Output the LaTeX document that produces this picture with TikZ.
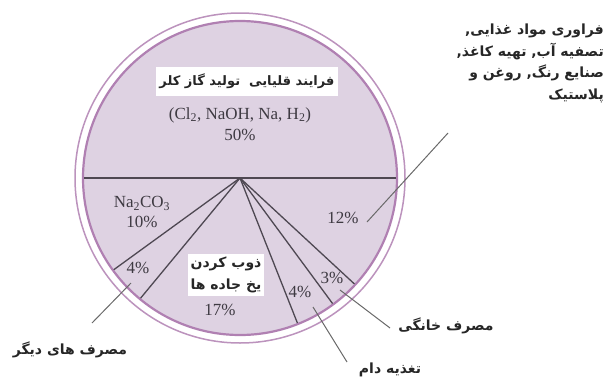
\documentclass[tikz,border=0pt]{standalone}
\usepackage{fontspec}
\setmainfont{Liberation Serif}
\newfontfamily\fafont[Script=Arabic]{DejaVu Sans}
\TeXXeTstate=1
\definecolor{piefill}{RGB}{222,210,226}
\definecolor{piering}{RGB}{176,128,178}
\definecolor{spokecol}{RGB}{78,72,82}
\definecolor{leadcol}{RGB}{105,105,105}
\definecolor{numcol}{RGB}{62,58,66}

\begin{document}
\begin{tikzpicture}[x=1pt, y=1pt,
  spoke/.style={draw=spokecol, line width=1.3pt},
  leader/.style={draw=leadcol, line width=1pt},
  pct/.style={font=\fontsize{17}{20}\selectfont, text=numcol, align=center, inner sep=0pt},
  fa/.style={font=\fafont\bfseries\fontsize{14}{21.5}\selectfont, text=black!85, inner sep=0pt},
  fabox/.style={fa, fill=white, inner sep=3pt}]
  \useasboundingbox (0,0) rectangle (608,-378);

  \coordinate (c) at (240,-178);
  \fill[white] (c) circle (165);
  \draw[piering!85, line width=1.5pt] (c) circle (165);
  \draw[piering, fill=piefill, line width=2.2pt] (c) circle (157);

  \foreach \a/\n in {0/e, 180/w, 216/s1, 230.4/s2, 291.6/s3, 306.4/s4, 317.2/s5}
    \path (c) ++(\a:156) coordinate (\n);
  \draw[spoke] (w) -- (e);
  \foreach \n in {s1, s2, s3, s4, s5}
    \draw[spoke] (c) -- (\n);

  \node (alk)  [fabox, font=\fafont\bfseries\fontsize{13}{16}\selectfont, inner ysep=7pt]
               at (247,-81) {\beginR فرایند قلیایی\ \ تولید گاز کلر\endR};
  \node (alkf) [pct] at (240,-115) {(Cl\textsubscript{2}, NaOH, Na, H\textsubscript{2})};
  \node (alkp) [pct] at (240,-135) {50\%};
  \node (soda) [pct] at (142,-212) {Na\textsubscript{2}CO\textsubscript{3}\\10\%};
  \node (oth)  [pct] at (138,-268) {4\%};
  \node (ice)  [fabox, align=center] at (226,-275)
               {\beginR ذوب کردن\endR\\\beginR یخ جاده ها\endR};
  \node (icep) [pct] at (220,-310) {17\%};
  \node (feed) [pct] at (300,-292) {4\%};
  \node (home) [pct] at (332,-278) {3\%};
  \node (proc) [pct] at (343,-218) {12\%};

  \node (proct) [fa, align=right, anchor=north east] at (604,-24)
                {\beginR فراوری مواد غذایی,\endR\\\beginR تصفیه آب, تهیه کاغذ,\endR\\
                 \beginR صنایع رنگ, روغن و\endR\\\beginR پلاستیک\endR};
  \node (otht)  [fa] at (70,-350)  {\beginR مصرف های دیگر\endR};
  \node (feedt) [fa] at (390,-370) {\beginR تغذیه دام\endR};
  \node (homet) [fa] at (446,-326) {\beginR مصرف خانگی\endR};

  \coordinate (l1a) at (367,-222); \coordinate (l1b) at (448,-133);
  \coordinate (l2a) at (131,-283); \coordinate (l2b) at (92,-323);
  \coordinate (l3a) at (313,-307); \coordinate (l3b) at (347,-362);
  \coordinate (l4a) at (340,-290); \coordinate (l4b) at (390,-328);
  \draw[leader] (l1a) -- (l1b);
  \draw[leader] (l2a) -- (l2b);
  \draw[leader] (l3a) -- (l3b);
  \draw[leader] (l4a) -- (l4b);
\end{tikzpicture}
\end{document}
